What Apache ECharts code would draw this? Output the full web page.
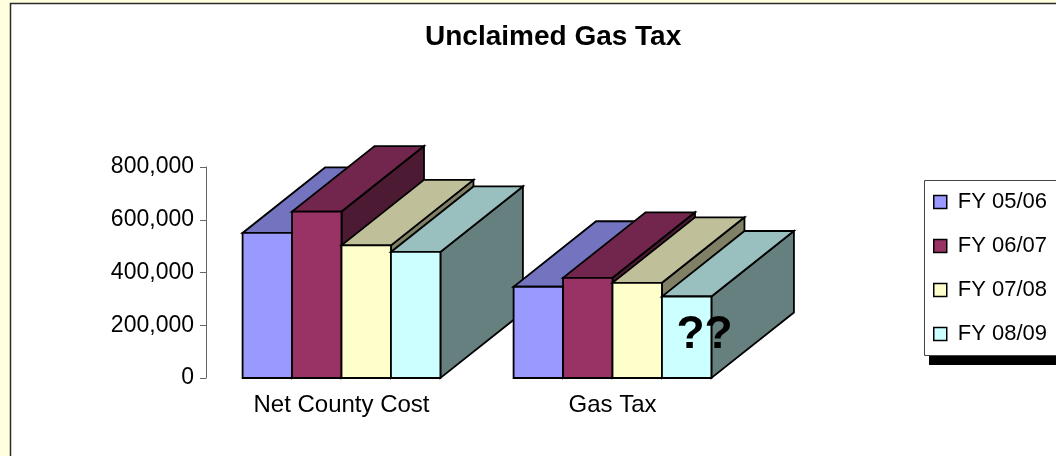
<!DOCTYPE html>
<html>
<head>
<meta charset="utf-8">
<script src="https://cdn.jsdelivr.net/npm/echarts@6/dist/echarts.min.js"></script>
<style>
  html, body { margin: 0; padding: 0; background: #FFFFDD; }
  #chart { width: 1056px; height: 456px; }
</style>
</head>
<body>
<div id="chart"></div>
<script>
// ---- data ----
const categories = ['Net County Cost', 'Gas Tax'];
const seriesNames = ['FY 05/06', 'FY 06/07', 'FY 07/08', 'FY 08/09'];
const fy0506 = [550000, 346000];
const fy0607 = [631000, 380000];
const fy0708 = [503000, 361000];
const fy0809 = [478000, 309000];
const fy0809Notes = ['', '??'];
const yTicks = [0, 200000, 400000, 600000, 800000];

const seriesValues = [fy0506, fy0607, fy0708, fy0809];
const seriesNotes = [null, null, null, fy0809Notes];

// ---- styles ----
const frontColors = ['#9999FF', '#993366', '#FFFFCC', '#CCFFFF'];
const FONT = "'Liberation Sans', Arial, sans-serif";
const DEPTH_X = 82.5, DEPTH_Y = -65.5;
const BAR_FRAC = 0.1825;

function shade(hex, f) {
  const n = parseInt(hex.slice(1), 16);
  const r = Math.round(((n >> 16) & 255) * f);
  const g = Math.round(((n >> 8) & 255) * f);
  const b = Math.round((n & 255) * f);
  return 'rgb(' + r + ',' + g + ',' + b + ')';
}

function makeRender(s) {
  return function (params, api) {
    const cat = api.value(0);
    const val = api.value(1);
    const topPt = api.coord([cat, val]);
    const basePt = api.coord([cat, 0]);
    const cw = api.size([1, 0])[0];
    const bw = cw * BAR_FRAC;
    const n = seriesNames.length;
    const x0 = topPt[0] - (n / 2) * bw + s * bw;
    const x1 = x0 + bw;
    const yT = topPt[1], yB = basePt[1];
    const z2 = cat * 10 + s;
    const stroke = { stroke: '#000', lineWidth: 1.8, lineJoin: 'miter' };
    const children = [
      { type: 'polygon', z2: z2,
        shape: { points: [[x1, yT], [x1, yB], [x1 + DEPTH_X, yB + DEPTH_Y], [x1 + DEPTH_X, yT + DEPTH_Y]] },
        style: Object.assign({ fill: shade(frontColors[s], 0.5) }, stroke) },
      { type: 'polygon', z2: z2,
        shape: { points: [[x0, yT], [x1, yT], [x1 + DEPTH_X, yT + DEPTH_Y], [x0 + DEPTH_X, yT + DEPTH_Y]] },
        style: Object.assign({ fill: shade(frontColors[s], 0.75) }, stroke) },
      { type: 'rect', z2: z2,
        shape: { x: x0, y: yT, width: bw, height: yB - yT },
        style: Object.assign({ fill: frontColors[s] }, stroke) }
    ];
    const notes = seriesNotes[s];
    if (notes && notes[cat]) {
      children.push({
        type: 'text', z2: cat * 10 + 9,
        style: {
          text: notes[cat], x: x1 - 0.14 * bw, y: (yT + yB) / 2 - 2,
          align: 'center', verticalAlign: 'middle',
          font: 'bold 46px ' + FONT, fill: '#000'
        }
      });
    }
    return { type: 'group', children: children };
  };
}

const chart = echarts.init(document.getElementById('chart'), null, { renderer: 'canvas' });

const option = {
  backgroundColor: '#FFFFDD',
  animation: false,
  textStyle: { fontFamily: FONT },
  graphic: [
    { type: 'rect', z: -10, silent: true,
      shape: { x: 10.5, y: 3.5, width: 1100, height: 500 },
      style: { fill: '#FFFFFF', stroke: '#2b2b2b', lineWidth: 1.5 } },
    // legend frame shadow and frame
    { type: 'rect', z: 3, silent: true,
      shape: { x: 929, y: 189, width: 200, height: 176 },
      style: { fill: '#000000' } },
    { type: 'rect', z: 3, silent: true,
      shape: { x: 924.5, y: 180.5, width: 200, height: 175 },
      style: { fill: '#FFFFFF', stroke: '#444', lineWidth: 1 } }
  ],
  title: {
    text: 'Unclaimed Gas Tax',
    left: 420, top: 18,
    textStyle: { fontFamily: FONT, fontSize: 28, fontWeight: 'bold', color: '#000' }
  },
  legend: {
    orient: 'vertical',
    left: 924, top: 180,
    padding: [11, 10, 11, 9],
    itemGap: 22,
    itemWidth: 13, itemHeight: 13,
    textStyle: { fontFamily: FONT, fontSize: 22, lineHeight: 22, color: '#000', padding: [0, 0, 0, 6] },
    data: seriesNames.map((name, i) => ({
      name: name, icon: 'rect',
      itemStyle: { color: frontColors[i], borderColor: '#000', borderWidth: 1.5 }
    }))
  },
  grid: { left: 206, right: 308, top: 167, bottom: 78, containLabel: false, outerBoundsMode: 'none' },
  xAxis: {
    type: 'category',
    data: categories,
    axisLine: { show: false },
    axisTick: { show: false },
    axisLabel: { fontFamily: FONT, fontSize: 24, color: '#000', margin: 15 }
  },
  yAxis: {
    type: 'value',
    min: yTicks[0], max: yTicks[yTicks.length - 1], interval: yTicks[1] - yTicks[0],
    axisLine: { show: true, lineStyle: { color: '#666', width: 1 } },
    axisTick: { show: true, length: 6, lineStyle: { color: '#666' } },
    splitLine: { show: false },
    axisLabel: {
      fontFamily: FONT, fontSize: 23, color: '#000', margin: 12,
      formatter: v => v.toLocaleString('en-US')
    }
  },
  series: seriesNames.map((name, s) => ({
    name: name,
    type: 'custom',
    clip: false,
    itemStyle: { color: frontColors[s] },
    renderItem: makeRender(s),
    encode: { x: 0, y: 1 },
    data: seriesValues[s].map((v, c) => [c, v])
  }))
};

chart.setOption(option);
</script>
</body>
</html>
